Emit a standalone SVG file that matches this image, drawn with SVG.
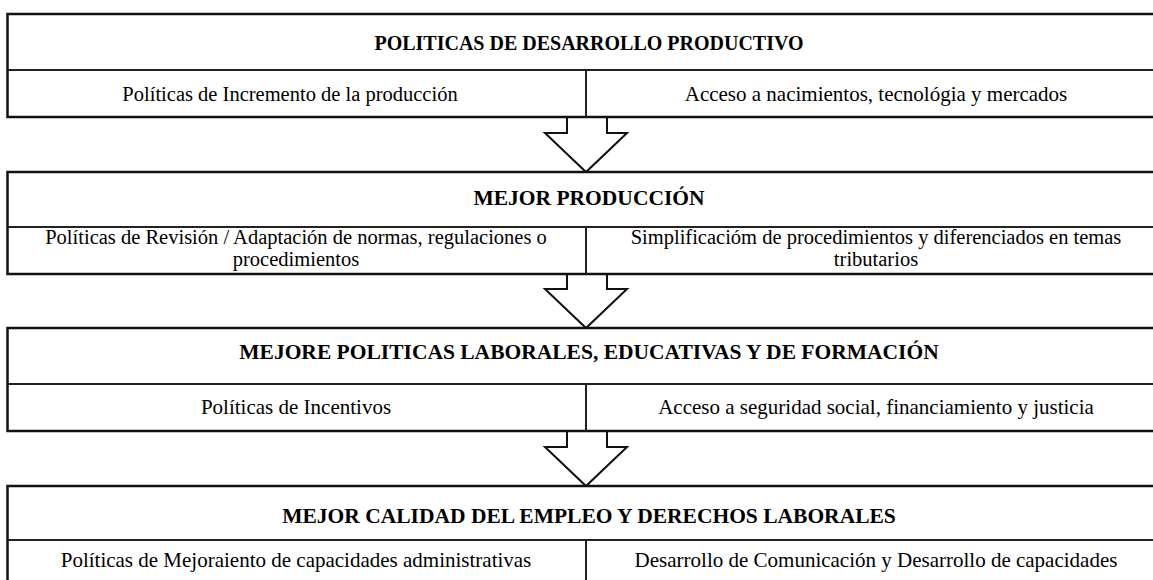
<svg xmlns="http://www.w3.org/2000/svg" width="1153" height="580" viewBox="0 0 1153 580">
<style>
.box{fill:#fff;stroke:#111;stroke-width:2.5}
.div{stroke:#222;stroke-width:2;fill:none}
.arrow{fill:#fff;stroke:#111;stroke-width:2;stroke-linejoin:miter}
.h{font-family:"Liberation Serif","Times New Roman",serif;font-weight:bold;font-size:21.5px;text-anchor:middle;fill:#000}
.t{font-family:"Liberation Serif","Times New Roman",serif;font-size:21px;text-anchor:middle;fill:#000}
.t2{font-family:"Liberation Serif","Times New Roman",serif;font-size:20.5px;text-anchor:middle;fill:#000}
</style>
<rect width="1153" height="580" fill="#fff"/>
<g id="connectors">
<path class="arrow" d="M567,117 V133 H545 L586,172 L627,133 H607 V117"/>
<path class="arrow" d="M567,274 V289 H545 L586,328 L627,289 H607 V274"/>
<path class="arrow" d="M567,431 V447 H545 L586,486 L627,447 H607 V431"/>
</g>
<g id="node1">
<rect class="box" x="7.5" y="14" width="1165" height="103"/>
<path class="div" d="M7.5,70 H1172 M586,70 V117"/>
<text class="h" x="589" y="50" style="font-size:20px">POLITICAS DE DESARROLLO PRODUCTIVO</text>
<text class="t" x="290" y="101" style="font-size:20.5px">Políticas de Incremento de la producción</text>
<text class="t" x="876" y="101">Acceso a nacimientos, tecnológia y mercados</text>
</g>
<g id="node2">
<rect class="box" x="7.5" y="172" width="1165" height="102"/>
<path class="div" d="M7.5,227 H1172 M586,227 V274"/>
<text class="h" x="589" y="205">MEJOR PRODUCCIÓN</text>
<text class="t2" x="296" y="244">Políticas de Revisión / Adaptación de normas, regulaciones o</text>
<text class="t2" x="296" y="266">procedimientos</text>
<text class="t2" x="876" y="244">Simplificacióm de procedimientos y diferenciados en temas</text>
<text class="t2" x="876" y="266">tributarios</text>
</g>
<g id="node3">
<rect class="box" x="7.5" y="328" width="1165" height="103"/>
<path class="div" d="M7.5,384 H1172 M586,384 V431"/>
<text class="h" x="589" y="359">MEJORE POLITICAS LABORALES, EDUCATIVAS Y DE FORMACIÓN</text>
<text class="t" x="296" y="414">Políticas de Incentivos</text>
<text class="t" x="876" y="414">Acceso a seguridad social, financiamiento y justicia</text>
</g>
<g id="node4">
<rect class="box" x="7.5" y="486" width="1165" height="103"/>
<path class="div" d="M7.5,540 H1172 M586,540 V589"/>
<text class="h" x="589" y="523">MEJOR CALIDAD DEL EMPLEO Y DERECHOS LABORALES</text>
<text class="t" x="296" y="567">Políticas de Mejoraiento de capacidades administrativas</text>
<text class="t" x="876" y="567">Desarrollo de Comunicación y Desarrollo de capacidades</text>
</g>
</svg>
